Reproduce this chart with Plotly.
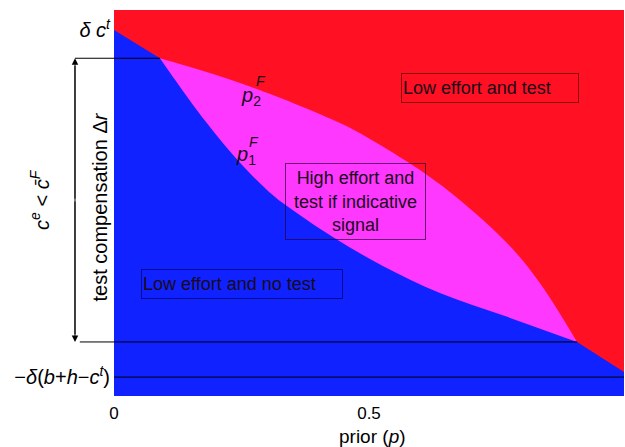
import plotly.graph_objects as go

# ---- data (prior p on x, test compensation on y, arbitrary units) ----
p2_x = [0.090, 0.247, 0.443, 0.522, 0.620, 0.678, 0.771, 0.835, 0.908]
p2_y = [0.875, 0.811, 0.707, 0.650, 0.567, 0.508, 0.396, 0.293, 0.140]
p1_x = [0.090, 0.116, 0.182, 0.247, 0.300, 0.331, 0.429, 0.527, 0.639, 0.771, 0.908]
p1_y = [0.875, 0.826, 0.707, 0.604, 0.534, 0.500, 0.412, 0.337, 0.267, 0.205, 0.140]
# straight red/blue boundary segments at both ends
left_x, left_y = [0.0, 0.090], [0.948, 0.875]
right_x, right_y = [0.908, 1.0], [0.140, 0.062]

y_top_tick = 0.948      # delta c^t
y_bot_tick = 0.049      # -delta(b+h-c^t)
y_upper_line = 0.875
y_lower_line = 0.140

x_ticks = [0, 0.5, 1]
x_ticklabels = ["0", "0.5", "1"]

RED = "#ff1022"
MAGENTA = "#ff38ff"
BLUE = "#0f22ff"
TXT = "#1a0a1a"
FONT = "Arial, Liberation Sans, sans-serif"

fig = go.Figure()

# blue region (below the straight chord; lens drawn on top)
bx = [0.0] + left_x + right_x + [1.0]
by = [0.0] + left_y + right_y + [0.0]
fig.add_trace(go.Scatter(x=bx, y=by, fill="toself", fillcolor=BLUE,
                         mode="none", hoverinfo="skip", showlegend=False))
# magenta lens between p1 and p2
fig.add_trace(go.Scatter(x=p1_x, y=p1_y, mode="lines",
                         line=dict(shape="spline", width=0, color=MAGENTA),
                         hoverinfo="skip", showlegend=False))
fig.add_trace(go.Scatter(x=p2_x, y=p2_y, mode="lines", fill="tonexty",
                         fillcolor=MAGENTA,
                         line=dict(shape="spline", width=0, color=MAGENTA),
                         hoverinfo="skip", showlegend=False))

arrow_x = -0.0765
shapes = [
    dict(type="line", xref="paper", yref="paper", x0=arrow_x, x1=p2_x[0],
         y0=y_upper_line, y1=y_upper_line, line=dict(color="black", width=1)),
    dict(type="line", xref="paper", yref="paper", x0=-0.067, x1=p2_x[-1],
         y0=y_lower_line, y1=y_lower_line, line=dict(color="black", width=1)),
    dict(type="line", xref="paper", yref="paper", x0=0, x1=1,
         y0=y_bot_tick, y1=y_bot_tick, line=dict(color="black", width=1)),
    dict(type="line", xref="paper", yref="paper", x0=arrow_x, x1=arrow_x,
         y0=y_lower_line + 0.02, y1=y_upper_line - 0.02,
         line=dict(color="black", width=1)),
]


def ann(x, y, text, size, color=TXT, **kw):
    d = dict(xref="paper", yref="paper", x=x, y=y, text=text, showarrow=False,
             xanchor="center", yanchor="middle",
             font=dict(size=size, color=color, family=FONT))
    d.update(kw)
    return d


mid_px = (y_upper_line - y_lower_line) / 2 * 386
annotations = [
    dict(xref="paper", yref="paper", x=arrow_x, y=y_upper_line, ax=0, ay=mid_px,
         text="", showarrow=True, arrowhead=2, arrowsize=1.3, arrowwidth=1,
         arrowcolor="black"),
    dict(xref="paper", yref="paper", x=arrow_x, y=y_lower_line, ax=0, ay=-mid_px,
         text="", showarrow=True, arrowhead=2, arrowsize=1.3, arrowwidth=1,
         arrowcolor="black"),
    ann(-0.027, 0.489, "test compensation Δ<i>r</i>", 20, "black", textangle=-90),
    ann(-0.145, 0.508,
        "<i>c</i><sup><i>e</i></sup> &lt; <i>c̄</i><sup><i>F</i></sup>", 20, "black",
        textangle=-90),
    ann(0.506, -0.106, "prior (<i>p</i>)", 19, "black"),
    # region labels
    ann(0.737, 0.798, "Low effort and test", 18, align="left", width=174, height=26,
        borderpad=1, bordercolor="rgba(60,0,0,0.6)", borderwidth=1),
    ann(0.4735, 0.504, "High effort and<br>test if indicative<br>signal", 18,
        align="center", width=137, height=73, borderpad=1,
        bordercolor="rgba(40,0,60,0.7)", borderwidth=1),
    ann(0.251, 0.290, "Low effort and no test", 18, align="left", width=198, height=26,
        borderpad=1, bordercolor="rgba(0,0,60,0.6)", borderwidth=1),
    # curve labels
    ann(0.269, 0.776, "<i>p</i><sub>2</sub>", 20),
    ann(0.288, 0.816, "<i>F</i>", 14),
    ann(0.259, 0.624, "<i>p</i><sub>1</sub>", 20),
    ann(0.275, 0.658, "<i>F</i>", 14),
]

fig.update_layout(
    width=625, height=447,
    margin=dict(l=114, r=1, t=10, b=51),
    paper_bgcolor="white",
    plot_bgcolor=RED,
    shapes=shapes,
    annotations=annotations,
    font=dict(family=FONT, size=17, color="black"),
    xaxis=dict(range=[0, 1], tickvals=x_ticks, ticktext=x_ticklabels,
               showgrid=False, zeroline=False, showline=False, ticks="",
               ticklabelstandoff=5,
               tickfont=dict(size=17), fixedrange=True, automargin=False),
    yaxis=dict(range=[0, 1], tickvals=[y_bot_tick, y_top_tick],
               ticktext=["−<i>δ</i>(<i>b</i>+<i>h</i>−<i>c</i><sup><i>t</i></sup>)",
                         "<i>δ c</i><sup><i>t</i></sup>"],
               showgrid=False, zeroline=False, showline=False, ticks="",
               ticklabelstandoff=3,
               tickfont=dict(size=20), fixedrange=True, automargin=False),
)

fig.write_html("out.html", config={"displayModeBar": False},
               post_script="document.body.style.margin='0px';document.body.style.overflow='hidden';")
